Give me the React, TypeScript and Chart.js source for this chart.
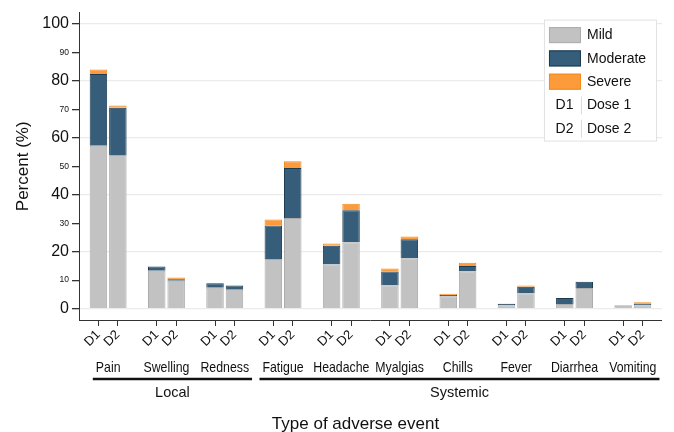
import React, { useEffect, useRef } from "react";
import { Chart, registerables } from "chart.js";

Chart.register(...registerables);

// ---------- data ----------
const categories = ["Pain", "Swelling", "Redness", "Fatigue", "Headache", "Myalgias", "Chills", "Fever", "Diarrhea", "Vomiting"];
const groupNames = ["Local", "Systemic"];
const groupOfCategory = [0, 0, 0, 1, 1, 1, 1, 1, 1, 1];
const doseLabels = ["D1", "D2"];
const doseNames = ["Dose 1", "Dose 2"];
const severityLabels = ["Mild", "Moderate", "Severe"];

const mildD1 = [57.2, 13.3, 7.3, 17.4, 15.5, 8.1, 4.3, 1.1, 1.6, 1.0];
const moderateD1 = [25.2, 1.5, 1.6, 11.8, 6.6, 4.9, 0.5, 0.6, 2.1, 0];
const severeD1 = [1.6, 0, 0, 2.1, 0.8, 1.1, 0.4, 0, 0, 0.3];

const mildD2 = [54.0, 9.8, 6.6, 31.8, 23.3, 17.7, 13.0, 5.4, 7.2, 1.2];
const moderateD2 = [16.6, 0.5, 1.5, 17.6, 11.3, 6.7, 2.0, 2.3, 2.2, 0.6];
const severeD2 = [0.8, 0.6, 0, 2.4, 2.2, 0.9, 1.1, 0.4, 0, 0.4];

const yTickValues = [0, 10, 20, 30, 40, 50, 60, 70, 80, 90, 100];

const xTitle = "Type of adverse event";
const yTitle = "Percent (%)";

// ---------- styles ----------
const FONT = "'Liberation Sans', Arial, Helvetica, sans-serif";
const fills = ["#c2c2c2", "#365d79", "#fd9a3a"];
const borders = ["#acacac", "#1d3a50", "#f28a1e"];

// ---------- build library tables ----------
// one empty slot before, between and after each pair of bars
const slotLabels: string[] = [""];
categories.forEach(() => {
  slotLabels.push(doseLabels[0], doseLabels[1], "");
});

function buildSeries(d1: number[], d2: number[]) {
  const out: (number | null)[] = [null];
  categories.forEach((_, i) => {
    out.push(d1[i] || null, d2[i] || null, null);
  });
  return out;
}

const seriesData = [
  buildSeries(mildD1, mildD2),
  buildSeries(moderateD1, moderateD2),
  buildSeries(severeD1, severeD2),
];

function squeezedText(ctx: CanvasRenderingContext2D, text: string, cx: number, cy: number, sx: number) {
  ctx.save();
  ctx.translate(cx, cy);
  ctx.scale(sx, 1);
  ctx.fillText(text, 0, 0);
  ctx.restore();
}

const annotationPlugin = {
  id: "groupLabels",
  afterDraw(chart: any) {
    const ctx = chart.ctx as CanvasRenderingContext2D;
    const xs = chart.scales.x;
    const area = chart.chartArea;
    ctx.save();
    ctx.fillStyle = "#111";
    ctx.textBaseline = "middle";
    ctx.textAlign = "center";

    // category labels
    const sx = 0.85;
    ctx.font = `14.5px ${FONT}`;
    const extents: { l: number; r: number }[] = [];
    categories.forEach((name, i) => {
      const i1 = 3 * i + 1;
      const cx = (xs.getPixelForValue(i1) + xs.getPixelForValue(i1 + 1)) / 2;
      const w = ctx.measureText(name).width * sx;
      squeezedText(ctx, name, cx, 368, sx);
      extents.push({ l: cx - w / 2, r: cx + w / 2 });
    });

    // group underlines + names
    groupNames.forEach((g, gi) => {
      const idx = categories.map((_, i) => i).filter((i) => groupOfCategory[i] === gi);
      const l = extents[idx[0]].l - 3;
      const r = extents[idx[idx.length - 1]].r + 3;
      ctx.strokeStyle = "#111";
      ctx.lineWidth = 2.5;
      ctx.beginPath();
      ctx.moveTo(l, 379);
      ctx.lineTo(r, 379);
      ctx.stroke();
      ctx.font = `14.5px ${FONT}`;
      ctx.fillText(g, (l + r) / 2, 393);
    });

    // axis title
    ctx.font = `17px ${FONT}`;
    ctx.fillText(xTitle, (xs.left + xs.right) / 2 - 15, 424);

    // legend
    const x0 = area.right - 118;
    const y0 = area.top + 7;
    const rowH = 23.3;
    ctx.fillStyle = "#ffffff";
    ctx.fillRect(x0, y0, 112, 121);
    ctx.strokeStyle = "#e2e2e2";
    ctx.lineWidth = 1;
    ctx.strokeRect(x0 + 0.5, y0 + 0.5, 112, 121);
    ctx.font = `14px ${FONT}`;
    ctx.textAlign = "left";
    chart.data.datasets.forEach((ds: any, i: number) => {
      const ry = y0 + 7.5 + i * rowH;
      ctx.fillStyle = ds.backgroundColor;
      ctx.fillRect(x0 + 5, ry, 32, 16);
      ctx.strokeStyle = ds.borderColor;
      ctx.strokeRect(x0 + 5.5, ry + 0.5, 31, 15);
      ctx.fillStyle = "#111";
      ctx.fillText(ds.label, x0 + 43, ry + 8.5);
    });
    doseLabels.forEach((d, j) => {
      const cy = y0 + 7.5 + (3 + j) * rowH + 8.5;
      ctx.fillStyle = "#111";
      ctx.textAlign = "center";
      ctx.fillText(d, x0 + 20.5, cy);
      ctx.textAlign = "left";
      ctx.fillText(doseNames[j], x0 + 43, cy);
      ctx.strokeStyle = "#dddddd";
      ctx.beginPath();
      ctx.moveTo(x0 + 37.5, cy - 9);
      ctx.lineTo(x0 + 37.5, cy + 9);
      ctx.stroke();
    });
    ctx.restore();
  },
};

export default function App() {
  const ref = useRef<HTMLCanvasElement>(null);

  useEffect(() => {
    document.body.style.margin = "0";
    const chart = new Chart(ref.current as HTMLCanvasElement, {
      type: "bar",
      data: {
        labels: slotLabels,
        datasets: severityLabels.map((label, i) => ({
          label,
          data: seriesData[i],
          backgroundColor: fills[i],
          borderColor: borders[i],
          borderWidth: 1,
          stack: "s",
          categoryPercentage: 1,
          barPercentage: 0.9,
        })),
      },
      options: {
        animation: false,
        responsive: false,
        layout: { padding: { top: 10, left: 0, right: 0, bottom: 0 } },
        plugins: { legend: { display: false }, tooltip: { enabled: false } },
        scales: {
          x: {
            type: "category",
            stacked: true,
            offset: false,
            grid: {
              offset: false,
              drawOnChartArea: false,
              tickLength: 6,
              tickWidth: 1,
              tickColor: (c: any) => (slotLabels[c.index] ? "#333" : "rgba(0,0,0,0)"),
            },
            border: { display: true, color: "#333", width: 1 },
            ticks: {
              autoSkip: false,
              maxRotation: 45,
              minRotation: 45,
              padding: 1,
              color: "#111",
              font: { size: 13, family: FONT },
            },
            afterFit: (s: any) => {
              s.height = 112;
            },
          },
          y: {
            stacked: true,
            min: -4,
            max: 104,
            afterBuildTicks: (s: any) => {
              s.ticks = yTickValues.map((v) => ({ value: v }));
            },
            afterFit: (s: any) => {
              s.width = 79;
            },
            grid: {
              color: (c: any) => (c.tick && c.tick.value % 20 === 0 ? "#ebebeb" : "rgba(0,0,0,0)"),
              lineWidth: 1.3,
              tickColor: "#333",
              tickLength: 7,
            },
            border: { display: true, color: "#333", width: 1 },
            ticks: {
              padding: 3,
              color: "#111",
              font: (c: any) =>
                c.tick && c.tick.value % 20 === 0
                  ? { size: 16, family: FONT }
                  : { size: 8.5, family: FONT },
            },
            title: {
              display: true,
              text: yTitle,
              color: "#111",
              font: { size: 17, family: FONT },
              padding: { top: 13, bottom: 0 },
            },
          },
        },
      },
      plugins: [annotationPlugin],
    } as any);
    return () => chart.destroy();
  }, []);

  return (
    <div style={{ width: 674, height: 432 }}>
      <canvas ref={ref} width={674} height={432} style={{ display: "block" }} />
    </div>
  );
}
